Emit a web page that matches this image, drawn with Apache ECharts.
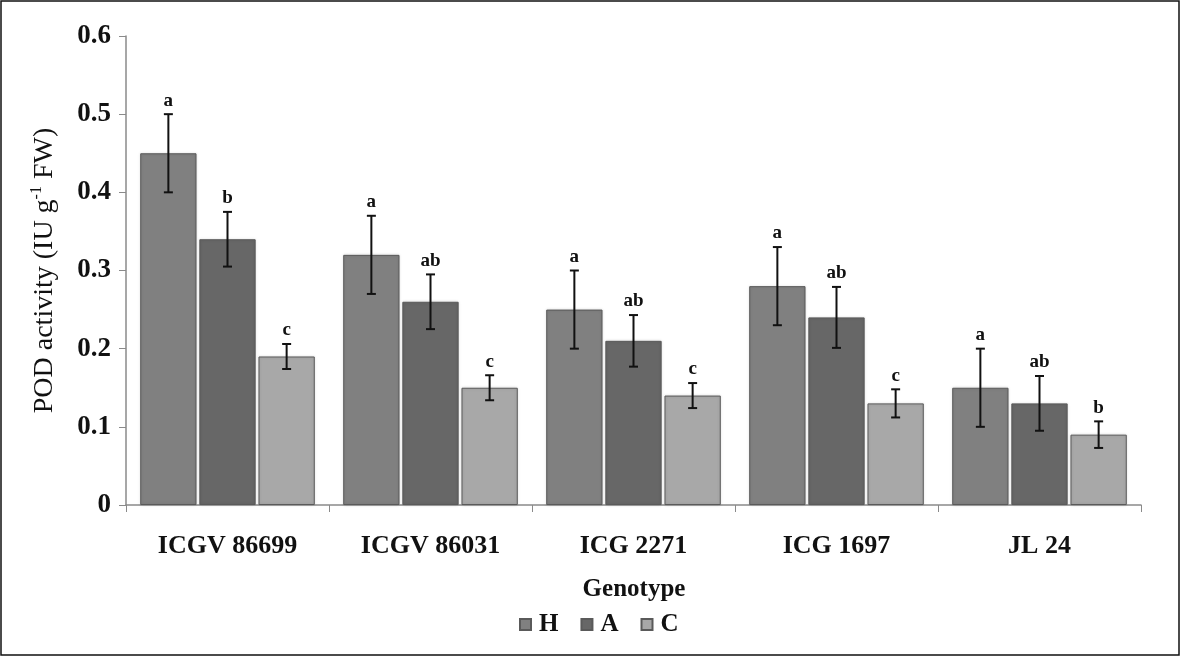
<!DOCTYPE html>
<html>
<head>
<meta charset="utf-8">
<script src="https://cdn.jsdelivr.net/npm/echarts@6/dist/echarts.min.js"></script>
<style>
  html, body { margin: 0; padding: 0; background: #fff; }
  #main { width: 1181px; height: 657px; }
</style>
</head>
<body>
<div id="main"></div>
<script>
var categories = ['ICGV 86699', 'ICGV 86031', 'ICG 2271', 'ICG 1697', 'JL 24'];
var seriesNames = ['H', 'A', 'C'];
var valuesH = [0.45, 0.32, 0.25, 0.28, 0.15];
var valuesA = [0.34, 0.26, 0.21, 0.24, 0.13];
var valuesC = [0.19, 0.15, 0.14, 0.13, 0.09];
var errH = [0.05, 0.05, 0.05, 0.05, 0.05];
var errA = [0.035, 0.035, 0.033, 0.039, 0.035];
var errC = [0.016, 0.016, 0.016, 0.018, 0.017];
var lettersH = ['a', 'a', 'a', 'a', 'a'];
var lettersA = ['b', 'ab', 'ab', 'ab', 'ab'];
var lettersC = ['c', 'c', 'c', 'c', 'b'];
var yTicks = [0, 0.1, 0.2, 0.3, 0.4, 0.5, 0.6];

var colors = ['#808080', '#676767', '#a8a8a8'];
var values = [valuesH, valuesA, valuesC];
var errs = [errH, errA, errC];
var letters = [lettersH, lettersA, lettersC];
var catGap = 0.14, barGap = 0.05;
var font = '"Liberation Serif", "Times New Roman", serif';

var myChart = echarts.init(document.getElementById('main'));

function errorSeries(idx) {
  var data = categories.map(function (c, i) {
    return [i, values[idx][i] - errs[idx][i], values[idx][i] + errs[idx][i], letters[idx][i]];
  });
  return {
    type: 'custom',
    name: seriesNames[idx] + ' err',
    z: 10,
    silent: true,
    data: data,
    encode: { x: 0, y: [1, 2] },
    renderItem: function (params, api) {
      var ci = api.value(0);
      var lo = api.coord([ci, api.value(1)]);
      var hi = api.coord([ci, api.value(2)]);
      var band = api.size([1, 0])[0];
      var gw = band * (1 - catGap);
      var w = gw / (3 + 2 * barGap);
      var x = lo[0] - gw / 2 + idx * w * (1 + barGap) + w / 2;
      var cap = 4.5;
      var st = { stroke: '#111', lineWidth: 2 };
      return {
        type: 'group',
        children: [
          { type: 'line', shape: { x1: x, y1: lo[1], x2: x, y2: hi[1] }, style: st },
          { type: 'line', shape: { x1: x - cap, y1: lo[1], x2: x + cap, y2: lo[1] }, style: st },
          { type: 'line', shape: { x1: x - cap, y1: hi[1], x2: x + cap, y2: hi[1] }, style: st },
          { type: 'text', x: x, y: hi[1] - 4, style: {
              text: api.value(3), textAlign: 'center', textVerticalAlign: 'bottom',
              font: 'bold 19px ' + font, fill: '#111' } }
        ]
      };
    }
  };
}

var series = [];
seriesNames.forEach(function (n, idx) {
  series.push({
    name: n,
    type: 'bar',
    data: values[idx],
    barCategoryGap: (catGap * 100) + '%',
    barGap: (barGap * 100) + '%',
    itemStyle: { color: colors[idx], borderColor: '#5a5a5a', borderWidth: 1,
      shadowColor: 'rgba(0,0,0,0.15)', shadowBlur: 3 }
  });
});
seriesNames.forEach(function (n, idx) { series.push(errorSeries(idx)); });

myChart.setOption({
  animation: false,
  backgroundColor: '#fff',
  textStyle: { fontFamily: font },
  grid: { left: 126, right: 40, top: 36, bottom: 152, containLabel: false },
  legend: {
    data: seriesNames,
    top: 612,
    left: 519,
    padding: 0,
    itemWidth: 11,
    itemHeight: 11,
    itemGap: 22,
    icon: 'rect',
    textStyle: { fontFamily: font, fontWeight: 'bold', fontSize: 25, color: '#111', padding: [0, 0, 0, 3] }
  },
  graphic: [
    { type: 'rect', shape: { x: 1, y: 1, width: 1178, height: 654 },
      style: { fill: 'none', stroke: '#111', lineWidth: 1.5 } },
    { type: 'text', x: 634, y: 590, style: { text: 'Genotype', textAlign: 'center',
      textVerticalAlign: 'middle', font: 'bold 25px ' + font, fill: '#111' } }
  ],
  xAxis: {
    type: 'category',
    data: categories,
    axisLine: { lineStyle: { color: '#8a8a8a', width: 1.5 } },
    axisTick: { show: true, alignWithLabel: false, length: 7, lineStyle: { color: '#8a8a8a' } },
    axisLabel: { fontFamily: font, fontWeight: 'bold', fontSize: 26, color: '#111', margin: 28 }
  },
  yAxis: {
    type: 'value',
    min: 0,
    max: 0.6,
    interval: 0.1,
    name: '{a|POD activity (IU g}{s|-1}{a| FW)}',
    nameLocation: 'middle',
    nameRotate: 90,
    nameGap: 67,
    nameTextStyle: {
      rich: {
        a: { fontFamily: font, fontSize: 28, color: '#111', lineHeight: 30, verticalAlign: 'bottom' },
        s: { fontFamily: font, fontSize: 16, color: '#111', lineHeight: 30, verticalAlign: 'top', padding: [0, 0, 12, 0] }
      }
    },
    splitLine: { show: false },
    axisLine: { show: true, lineStyle: { color: '#8a8a8a', width: 1.5 } },
    axisTick: { show: true, inside: false, length: 7, lineStyle: { color: '#8a8a8a' } },
    axisLabel: {
      fontFamily: font, fontWeight: 'bold', fontSize: 27, color: '#111', margin: 15,
      formatter: function (v) {
        var t = yTicks.find(function (k) { return Math.abs(k - v) < 1e-9; });
        return t === 0 ? '0' : String(+v.toFixed(1));
      }
    }
  },
  series: series
});
</script>
</body>
</html>
